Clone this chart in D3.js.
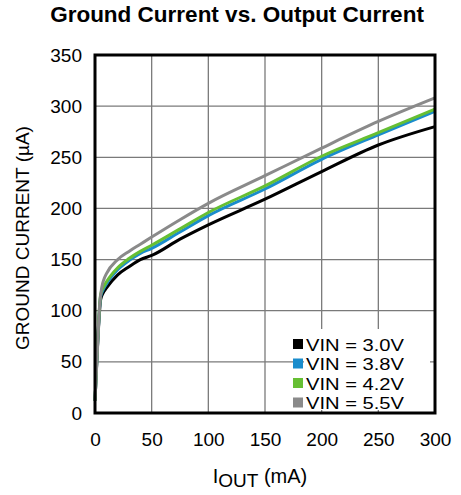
<!DOCTYPE html>
<html>
<head>
<meta charset="utf-8">
<script src="https://cdn.jsdelivr.net/npm/d3@7"></script>
<style>
  html, body { margin: 0; padding: 0; background: #fff; }
  text { font-family: "Liberation Sans", Arial, Helvetica, sans-serif; }
</style>
</head>
<body>
<svg id="chart" width="461" height="495"></svg>
<script>
// ---- Data ----
const seriesNames = ["VIN = 3.0V", "VIN = 3.8V", "VIN = 4.2V", "VIN = 5.5V"];
const seriesColors = ["#000000", "#1a8ccc", "#66bf33", "#8a8a8a"];

// IOUT (mA), ground current (µA)
const vin30 = [[0,12],[2,60],[5,111],[7,117],[10,122],[20,135],[30,143],[40,150],[50,154],[75,170],[100,184],[150,209],[200,236],[250,262],[300,280]];
const vin38 = [[0,12],[2,61],[5,114],[7,120],[10,126],[20,140],[30,149],[40,156],[50,161],[75,177],[100,193],[150,219],[200,248],[250,272],[300,295]];
const vin42 = [[0,12],[2,62],[5,116],[7,122],[10,128],[20,142],[30,151],[40,158],[50,164],[75,180],[100,196],[150,222],[200,251],[250,274],[300,297]];
const vin55 = [[0,12],[2,58],[4,104],[6,123],[8,131],[10,136],[20,150],[30,158],[40,165],[50,172],[75,189],[100,205],[150,232],[200,259],[250,285],[300,308]];
const seriesData = [vin30, vin38, vin42, vin55];

const xTicks = [0, 50, 100, 150, 200, 250, 300];
const yTicks = [0, 50, 100, 150, 200, 250, 300, 350];

const titleText = "Ground Current vs. Output Current";
const yTitle = "GROUND CURRENT (µA)";

// ---- Layout ----
const W = 461, H = 495;
const m = { left: 95, right: 26, top: 55, bottom: 82 };
const svg = d3.select("#chart");

const x = d3.scaleLinear().domain([0, 300]).range([m.left, W - m.right]);
const y = d3.scaleLinear().domain([0, 350]).range([H - m.bottom, m.top]);

// Title
svg.append("text")
  .attr("x", 237).attr("y", 22)
  .attr("text-anchor", "middle")
  .attr("font-size", 22.5).attr("font-weight", "bold")
  .attr("fill", "#000")
  .text(titleText);

// Grid
const grid = svg.append("g");
grid.selectAll("line.v").data(xTicks).join("line")
  .attr("x1", d => x(d)).attr("x2", d => x(d))
  .attr("y1", y(0)).attr("y2", y(350))
  .attr("stroke", "#7a7a7a").attr("stroke-width", 1.3);
grid.selectAll("line.h").data(yTicks).join("line")
  .attr("x1", x(0)).attr("x2", x(300))
  .attr("y1", d => y(d)).attr("y2", d => y(d))
  .attr("stroke", "#7a7a7a").attr("stroke-width", 1.3);

// Legend background (covers grid)
const legX = 304, legY = 329;
svg.append("rect")
  .attr("x", legX).attr("y", legY)
  .attr("width", 126).attr("height", 81)
  .attr("fill", "#fff");

// Lines
const line = d3.line().x(d => x(d[0])).y(d => y(d[1])).curve(d3.curveMonotoneX);
svg.append("g").selectAll("path").data(seriesData).join("path")
  .attr("d", line)
  .attr("fill", "none")
  .attr("stroke", (d, i) => seriesColors[i])
  .attr("stroke-width", 3)
  .attr("stroke-linejoin", "round");

// Frame
svg.append("rect")
  .attr("x", x(0)).attr("y", y(350))
  .attr("width", x(300) - x(0)).attr("height", y(0) - y(350))
  .attr("fill", "none").attr("stroke", "#000").attr("stroke-width", 3);

// Axes (labels only, via d3 axes)
const xAxis = d3.axisBottom(x).tickValues(xTicks).tickSize(0).tickPadding(20);
const gx = svg.append("g").attr("transform", `translate(0,${y(0)})`).call(xAxis);
gx.select(".domain").remove();
gx.selectAll("text").attr("font-size", 19).attr("fill", "#000")
  .attr("font-family", "'Liberation Sans', Arial, sans-serif");

const yAxis = d3.axisLeft(y).tickValues(yTicks).tickSize(0).tickPadding(13);
const gy = svg.append("g").attr("transform", `translate(${x(0)},0)`).call(yAxis);
gy.select(".domain").remove();
gy.selectAll("text").attr("font-size", 19).attr("fill", "#000")
  .attr("font-family", "'Liberation Sans', Arial, sans-serif");

// X axis title with subscript
const xt = svg.append("text")
  .attr("x", 260).attr("y", 483)
  .attr("text-anchor", "middle")
  .attr("font-size", 20).attr("fill", "#000");
xt.append("tspan").text("I");
xt.append("tspan").attr("dy", 4).attr("font-size", 19).text("OUT");
xt.append("tspan").attr("dy", -4).text(" (mA)");

// Y axis title
svg.append("text")
  .attr("transform", `translate(29,${(y(0) + y(350)) / 2 + 4}) rotate(-90)`)
  .attr("text-anchor", "middle")
  .attr("font-size", 19).attr("fill", "#000")
  .text(yTitle);

// Legend
const leg = svg.append("g");
seriesNames.forEach((name, i) => {
  const cy = 344 + i * 19.5;
  leg.append("rect")
    .attr("x", 293).attr("y", cy - 5).attr("width", 10).attr("height", 10)
    .attr("fill", seriesColors[i]);
  leg.append("text")
    .attr("x", 306).attr("y", cy + 6.5)
    .attr("font-size", 17.3).attr("fill", "#000")
    .attr("textLength", 98).attr("lengthAdjust", "spacingAndGlyphs")
    .text(name);
});
</script>
</body>
</html>
